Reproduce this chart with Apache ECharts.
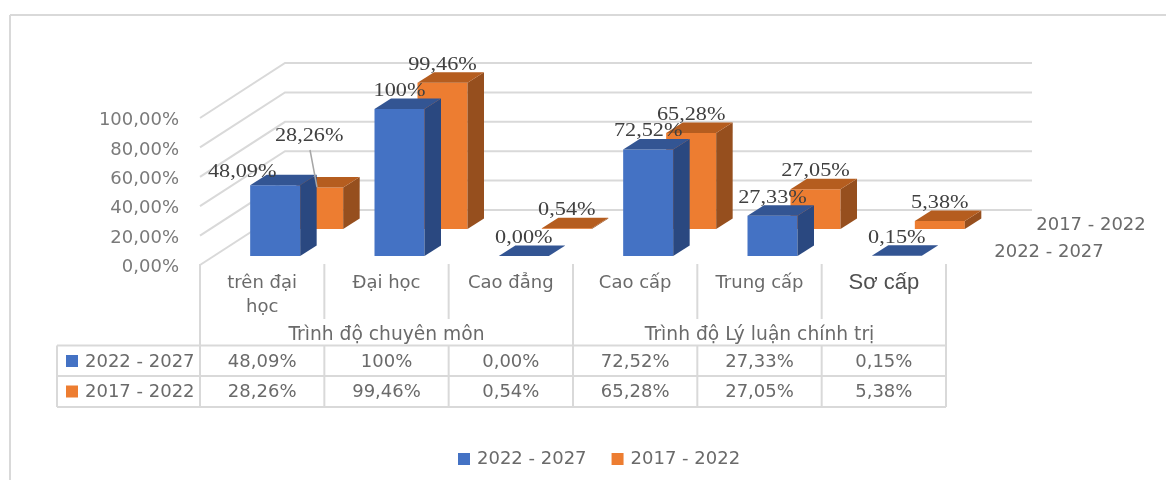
<!DOCTYPE html>
<html><head><meta charset="utf-8">
<style>html,body{margin:0;padding:0;background:#fff}#c{width:1166px;height:480px}</style>
<script src="https://cdn.jsdelivr.net/npm/echarts@6/dist/echarts.min.js"></script>
</head><body><div id="c"></div>
<script>
const categories = ['trên đại\nhọc', 'Đại học', 'Cao đẳng', 'Cao cấp', 'Trung cấp', 'Sơ cấp'];
const groups = ['Trình độ chuyên môn', 'Trình độ Lý luận chính trị'];
const seriesNames = ['2022 - 2027', '2017 - 2022'];
const values2227 = [48.09, 100, 0.00, 72.52, 27.33, 0.15];
const values1722 = [28.26, 99.46, 0.54, 65.28, 27.05, 5.38];
const yTicks = [0, 20, 40, 60, 80, 100];

const fmt = v => v === 100 ? '100%' : v.toFixed(2).replace('.', ',') + '%';
const FONT = '"DejaVu Sans"';
const GRID = '#d9d9d9', TXT = '#6a6a6a';
const L = 200, R = 946, T = 118, B = 265, CW = (R - L) / 6;
const palette = {
  blue: { front: '#4472c4', side: '#2a4880', top: '#335593' },
  orange: { front: '#ed7d31', side: '#964f1e', top: '#b55d1f' }
};
const WALL = [85, 55], BARW = 50, DX = 16.5, DY = 10.5;

function poly(pts, fill) { return { type: 'polygon', shape: { points: pts }, style: { fill } }; }

function barRender(ox, oy, col) {
  return (params, api) => {
    const b = api.coord([api.value(0), 0]), t = api.coord([api.value(0), api.value(1)]);
    const x0 = b[0] + ox - BARW / 2, x1 = x0 + BARW, y0 = b[1] - oy, yt = t[1] - oy;
    const ch = [];
    if (y0 - yt > 0.6) {
      ch.push(poly([[x0, yt], [x1, yt], [x1, y0], [x0, y0]], col.front));
      ch.push(poly([[x1, yt], [x1 + DX, yt - DY], [x1 + DX, y0 - DY], [x1, y0]], col.side));
    }
    ch.push(poly([[x0, yt], [x1, yt], [x1 + DX, yt - DY], [x0 + DX, yt - DY]], col.top));
    return { type: 'group', children: ch };
  };
}
function labelRender(ox, oy, extra) {
  return (params, api) => {
    const i = params.dataIndex, v = api.value(1);
    const t = api.coord([api.value(0), v]);
    const e = extra[i] || [0, 0];
    return { type: 'text', x: t[0] + ox + e[0], y: t[1] - oy - 18 + e[1], scaleX: 1.17,
      style: { text: fmt(v), x: 0, y: 0, align: 'center', verticalAlign: 'middle',
        font: '19px "Liberation Serif"', fill: '#404040' } };
  };
}
function wallRender(params, api) {
  const p = api.coord([0, api.value(0)]);
  const x = p[0] - CW / 2, y = p[1];
  return { type: 'polyline', shape: { points: [[x, y], [x + WALL[0], y - WALL[1]], [1032, y - WALL[1]]] },
    style: { stroke: GRID, lineWidth: 2, fill: null } };
}

const g = [];
const line = (x1, y1, x2, y2, stroke = GRID, w = 2) => g.push({ type: 'line', z: 1, shape: { x1, y1, x2, y2 }, style: { stroke, lineWidth: w } });
const text = (t, x, y, align = 'center', font = '18px ' + FONT, fill = TXT) =>
  g.push({ type: 'text', z: 5, x, y, style: { text: t, align, verticalAlign: 'middle', font, fill } });

// outer frame
line(10, 15, 1166, 15); line(10, 15, 10, 480);
// table rules
const RT = 345.5, RM = 376, RB = 407;
[L, L + 3 * CW, R].forEach(x => line(x, 264, x, RB));
[1, 2, 4, 5].forEach(i => line(L + i * CW, 264, L + i * CW, 319));
[1, 2, 4, 5].forEach(i => line(L + i * CW, RT, L + i * CW, RB));
line(57, RT, R, RT); line(57, RM, R, RM); line(57, RB, R, RB); line(57, RT, 57, RB);
// table text
const groupFont = '18.7px ' + FONT;
text(groups[0], L + 1.5 * CW, 335, 'center', groupFont); text(groups[1], L + 4.5 * CW, 335, 'center', groupFont);
[[values2227, 362, palette.blue.front, 0], [values1722, 392.5, palette.orange.front, 1]].forEach(([vals, y, c, k]) => {
  g.push({ type: 'rect', z: 5, shape: { x: 66, y: y - 7, width: 12, height: 12 }, style: { fill: c } });
  text(seriesNames[k], 85, y, 'left');
  vals.forEach((v, i) => text(fmt(v), L + (i + .5) * CW, y));
});
// depth-axis labels
text(seriesNames[1], 1091, 225); text(seriesNames[0], 1049, 252.5);
// leader line
g.push({ type: 'line', z: 20, shape: { x1: 310, y1: 150, x2: 317, y2: 187 }, style: { stroke: '#a6a6a6', lineWidth: 1.5 } });

const chart = echarts.init(document.getElementById('c'), null, { renderer: 'canvas' });
chart.setOption({
  animation: false,
  backgroundColor: '#fff',
  grid: { left: L, top: T, width: R - L, height: B - T },
  xAxis: {
    type: 'category', data: categories.map((c, i) => i === 5
      ? { value: c, textStyle: { fontFamily: '"Liberation Sans"', fontSize: 22, color: '#505050' } } : c),
    axisLine: { show: false }, axisTick: { show: false },
    axisLabel: { interval: 0, margin: 6, fontFamily: FONT, fontSize: 18, color: TXT, lineHeight: 24 }
  },
  yAxis: {
    type: 'value', min: 0, max: 100, interval: 20,
    axisLine: { show: false }, axisTick: { show: false }, splitLine: { show: false },
    axisLabel: { margin: 21, fontFamily: FONT, fontSize: 18, color: '#7a7a7a', verticalAlign: 'top', lineHeight: 5,
      formatter: v => v.toFixed(2).replace('.', ',') + '%' }
  },
  legend: {
    left: 453, top: 445, itemWidth: 12, itemHeight: 12, itemGap: 25, icon: 'rect',
    data: seriesNames, textStyle: { fontFamily: FONT, fontSize: 18, color: TXT, padding: [0, 0, 0, 2] }
  },
  graphic: g,
  series: [
    { type: 'custom', name: 'walls', z: 1, data: yTicks.map(v => [v]), encode: { y: 0 }, renderItem: wallRender, silent: true },
    { type: 'custom', name: seriesNames[1], z: 3, itemStyle: { color: palette.orange.front },
      data: values1722.map((v, i) => [i, v]), encode: { x: 0, y: 1 }, renderItem: barRender(56, 36, palette.orange) },
    { type: 'custom', name: seriesNames[0], z: 4, itemStyle: { color: palette.blue.front },
      data: values2227.map((v, i) => [i, v]), encode: { x: 0, y: 1 }, renderItem: barRender(13, 9, palette.blue) },
    { type: 'custom', name: 'lblB', z: 10, data: values1722.map((v, i) => [i, v]), encode: { x: 0, y: 1 },
      renderItem: labelRender(56, 36, { 0: [-9, -33] }) },
    { type: 'custom', name: 'lblA', z: 11, data: values2227.map((v, i) => [i, v]), encode: { x: 0, y: 1 },
      renderItem: labelRender(13, 9, { 0: [-33, 5] }) }
  ]
});
</script></body></html>
